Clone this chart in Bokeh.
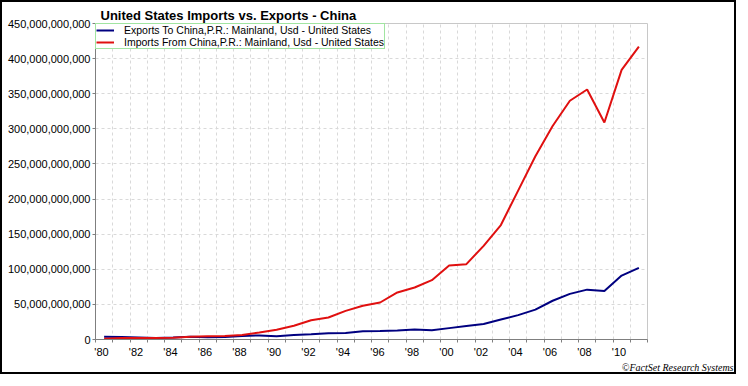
import numpy as np
from bokeh.plotting import figure
from bokeh.models import (FixedTicker, NumeralTickFormatter, CustomJSTickFormatter,
                          Range1d, Legend, LegendItem, Title, ColumnDataSource)
from bokeh.embed import file_html
from bokeh.resources import INLINE

# ---- data (values in billions of USD) ----
years = list(range(1980, 2012))
exports_bn = [3.8, 3.6, 2.9, 2.2, 3.0, 3.9, 3.1, 3.5, 5.0, 5.8,
              4.8, 6.3, 7.4, 8.8, 9.3, 11.7, 12.0, 12.9, 14.2, 13.1,
              16.2, 19.2, 22.1, 28.4, 34.7, 42.5, 55.2, 65.0, 71.0, 69.0,
              91.0, 102.0]
imports_bn = [1.1, 2.0, 2.3, 2.3, 2.5, 4.0, 4.5, 5.0, 6.5, 10.0,
              14.0, 19.5, 27.5, 31.3, 40.8, 48.0, 52.7, 67.0, 74.0, 84.5,
              105.4, 107.3, 133.4, 163.0, 212.0, 261.0, 304.0, 340.0, 356.0, 309.0,
              384.0, 417.0]
label_years = list(range(1980, 2012, 2))
y_ticks_bn = list(range(0, 451, 50))

title_text = "United States Imports vs. Exports - China"
exports_name = "Exports To China,P.R.: Mainland, Usd - United States"
imports_name = "Imports From China,P.R.: Mainland, Usd - United States"
credit_text = "\u00a9FactSet Research Systems"

# ---- build ----
x_mid = np.array(years) + 0.5
src = ColumnDataSource(dict(x=x_mid,
                            exp=np.array(exports_bn) * 1e9,
                            imp=np.array(imports_bn) * 1e9))

p = figure(width=736, height=374, output_backend="svg", toolbar_location=None,
           x_range=Range1d(1980, 2012), y_range=Range1d(0, 450e9),
           min_border_left=93, min_border_right=91, min_border_top=21,
           min_border_bottom=37, background_fill_color="white",
           border_fill_color="white")
p.styles = {"border": "2px solid black"}

p.title.text = title_text
p.title.align = "left"
p.title.offset = 5
p.title.text_font = "Liberation Sans"
p.title.text_font_size = "13px"
p.title.text_font_style = "bold"
p.title.text_color = "black"
p.title.standoff = 2

p.outline_line_color = "#c8c8c8"
p.outline_line_width = 1

l1 = p.line("x", "exp", source=src, line_color="#000080", line_width=2)
l2 = p.line("x", "imp", source=src, line_color="#e01010", line_width=2)

# x axis
p.xaxis.ticker = FixedTicker(ticks=[y + 0.35 for y in label_years],
                             minor_ticks=list(range(1980, 2013)))
p.xaxis.formatter = CustomJSTickFormatter(
    code="return \"'\" + String(Math.floor(tick + 0.01)).slice(2);")
p.xaxis.major_tick_out = 0
p.xaxis.major_tick_in = 0
p.xaxis.minor_tick_out = 3
p.xaxis.minor_tick_in = 0
p.xaxis.minor_tick_line_color = "#7f7f7f"
p.xaxis.axis_line_color = "#7f7f7f"
p.xaxis.major_label_standoff = 3
p.xaxis.major_label_text_font = "Liberation Sans"
p.xaxis.major_label_text_font_size = "11px"
p.xaxis.major_label_text_color = "black"

# y axis
p.yaxis.ticker = FixedTicker(ticks=[v * 1e9 for v in y_ticks_bn], minor_ticks=[])
p.yaxis.formatter = NumeralTickFormatter(format="0,0")
p.yaxis.major_tick_out = 3
p.yaxis.major_tick_in = 0
p.yaxis.major_tick_line_color = "#7f7f7f"
p.yaxis.axis_line_color = "#7f7f7f"
p.yaxis.major_label_standoff = 2
p.yaxis.major_label_text_font = "Liberation Sans"
p.yaxis.major_label_text_font_size = "11px"
p.yaxis.major_label_text_color = "black"

# grids
p.xgrid.ticker = FixedTicker(ticks=list(range(1981, 2012)))
p.ygrid.ticker = FixedTicker(ticks=[v * 1e9 for v in y_ticks_bn[1:-1]])
for g in (p.xgrid, p.ygrid):
    g.grid_line_color = "#d9d9d9"
    g.grid_line_dash = "3 3"
    g.grid_line_width = 1

legend = Legend(items=[LegendItem(label=exports_name, renderers=[l1]),
                       LegendItem(label=imports_name, renderers=[l2])],
                location="top_left", margin=0, padding=0, spacing=0,
                label_height=12, glyph_height=12, glyph_width=18,
                label_standoff=10, border_line_color="#44cc44",
                border_line_width=1, background_fill_color="white",
                background_fill_alpha=1.0,
                label_text_font="Liberation Sans", label_text_font_size="10.5px",
                label_text_color="black")
p.add_layout(legend, "center")

credit = Title(text=credit_text, align="right", offset=-86,
               text_font="Liberation Serif", text_font_style="italic",
               text_font_size="10px", text_color="black", standoff=0,
               vertical_align="middle")
p.add_layout(credit, "below")

open("out.html", "w").write(file_html(p, INLINE))
